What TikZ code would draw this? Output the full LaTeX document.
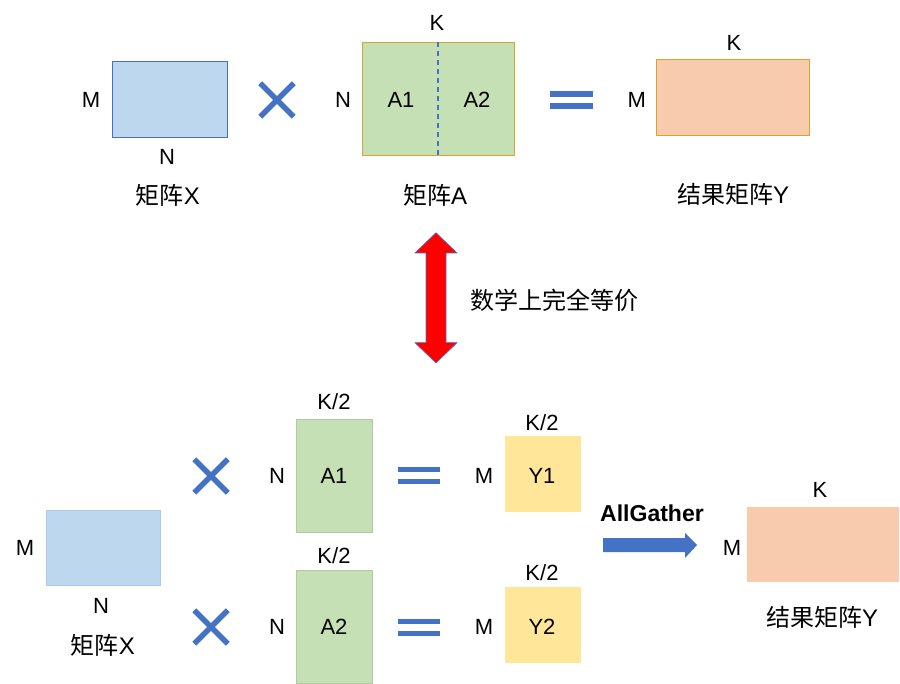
\documentclass[tikz,border=0pt]{standalone}
\usepackage{fontspec}
\setmainfont{Liberation Sans}
\newfontfamily\cjk{Noto Sans CJK SC}
\usetikzlibrary{shapes.misc}
\definecolor{xblue}{HTML}{BDD7EE}
\definecolor{lineblue}{HTML}{4472C4}
\definecolor{agreen}{HTML}{C5E0B4}
\definecolor{gold}{HTML}{D6A52C}
\definecolor{peach}{HTML}{F8CBAD}
\definecolor{yel}{HTML}{FFE699}
\tikzset{
  lbl/.style={font=\fontsize{22}{24}\selectfont, inner sep=0pt},
  cjklbl/.style={font=\fontsize{24}{26}\selectfont, inner sep=0pt},
  mat/.style={rectangle, inner sep=0pt, minimum width=#1},
  mulsign/.style={cross out, draw=lineblue, line width=5.5pt, minimum size=28pt, inner sep=0pt},
  eqbar/.style={fill=lineblue, draw=none}
}
\begin{document}
\begin{tikzpicture}[x=1pt,y=-1pt]
\useasboundingbox (0,0) rectangle (900,684);
% ---------- top row ----------
\node[mat=115pt, minimum height=76pt, fill=xblue, draw=lineblue, line width=0.8pt] (X) at (169.5,99) {};
\node[lbl] (XM) at (91,100) {M};
\node[lbl] (XN) at (167,157) {N};
\node[cjklbl] (Xt) at (168,195) {{\cjk 矩阵}X};
\node[mulsign] (mul) at (277,100) {};
\node[mat=152pt, minimum height=113pt, fill=agreen, draw=gold, line width=1pt] (A) at (438,99.5) {};
\draw[lineblue, dash pattern=on 5pt off 4pt, line width=1.3pt] (A.north) -- (A.south);
\node[lbl] (AK) at (437,23) {K};
\node[lbl] (AN) at (343,100) {N};
\node[lbl] (A1t) at (401,100) {A1};
\node[lbl] (A2t) at (477,100) {A2};
\node[cjklbl] (At) at (435,195) {{\cjk 矩阵}A};
\fill[eqbar] (550,90.7) rectangle (592.7,96.7);
\fill[eqbar] (550,102.7) rectangle (592.7,109.3);
\node[mat=153pt, minimum height=76pt, fill=peach, draw=gold, line width=1pt] (Y) at (733,98) {};
\node[lbl] (YK) at (734,43) {K};
\node[lbl] (YM) at (636.7,100) {M};
\node[cjklbl] (Yt) at (733,194) {{\cjk 结果矩阵}Y};
% ---------- equivalence arrow ----------
\draw[fill=red, draw=lineblue, line width=0.6pt]
  (436,232.7) -- (457,253) -- (446,253) -- (446,342.7) -- (457,342.7)
  -- (436,363) -- (415,342.7) -- (426,342.7) -- (426,253) -- (415,253) -- cycle;
\node[cjklbl, anchor=west] (eqt) at (470,300) {\cjk 数学上完全等价};
% ---------- bottom ----------
\node[mat=114pt, minimum height=75pt, fill=xblue, draw=xblue!85!lineblue, line width=0.5pt] (bX) at (103,547.5) {};
\node[lbl] (bXM) at (25,548) {M};
\node[lbl] (bXN) at (101,606) {N};
\node[cjklbl] (bXt) at (103,645) {{\cjk 矩阵}X};
\node[mulsign] (mul1) at (211,476) {};
\node[mulsign] (mul2) at (211,627) {};
\node[lbl] (N1) at (277,476) {N};
\node[lbl] (N2) at (277,627) {N};
\node[mat=76pt, minimum height=113pt, fill=agreen, draw=agreen!90!black, line width=0.4pt] (bA1) at (334,475.5) {};
\node[mat=76pt, minimum height=113pt, fill=agreen, draw=agreen!90!black, line width=0.4pt] (bA2) at (334,626.5) {};
\node[lbl] (A1K) at (334,402) {K/2};
\node[lbl] (A2K) at (334,556) {K/2};
\node[lbl] (bA1t) at (334,476) {A1};
\node[lbl] (bA2t) at (334,627) {A2};
\fill[eqbar] (398,467) rectangle (440,472);
\fill[eqbar] (398,479) rectangle (440,484);
\fill[eqbar] (398,619) rectangle (440,624);
\fill[eqbar] (398,631) rectangle (440,636);
\node[mat=76pt, minimum height=76pt, fill=yel] (Y1) at (543,474) {};
\node[mat=76pt, minimum height=76pt, fill=yel] (Y2) at (543,624.5) {};
\node[lbl] (Y1K) at (542,423) {K/2};
\node[lbl] (Y2K) at (542,573) {K/2};
\node[lbl] (Y1M) at (484,476) {M};
\node[lbl] (Y2M) at (484,627) {M};
\node[lbl] (Y1t) at (542,476) {Y1};
\node[lbl] (Y2t) at (542,627) {Y2};
\node[lbl, font=\fontsize{23}{25}\selectfont\bfseries] (ag) at (652,513) {AllGather};
\fill[lineblue] (603,538) -- (685,538) -- (685,533) -- (697,545) -- (685,558) -- (685,552) -- (603,552) -- cycle;
\node[mat=152pt, minimum height=75pt, fill=peach] (bY) at (823,544.5) {};
\node[lbl] (bYK) at (820,490) {K};
\node[lbl] (bYM) at (732,548) {M};
\node[cjklbl] (bYt) at (822,617) {{\cjk 结果矩阵}Y};
\end{tikzpicture}
\end{document}
